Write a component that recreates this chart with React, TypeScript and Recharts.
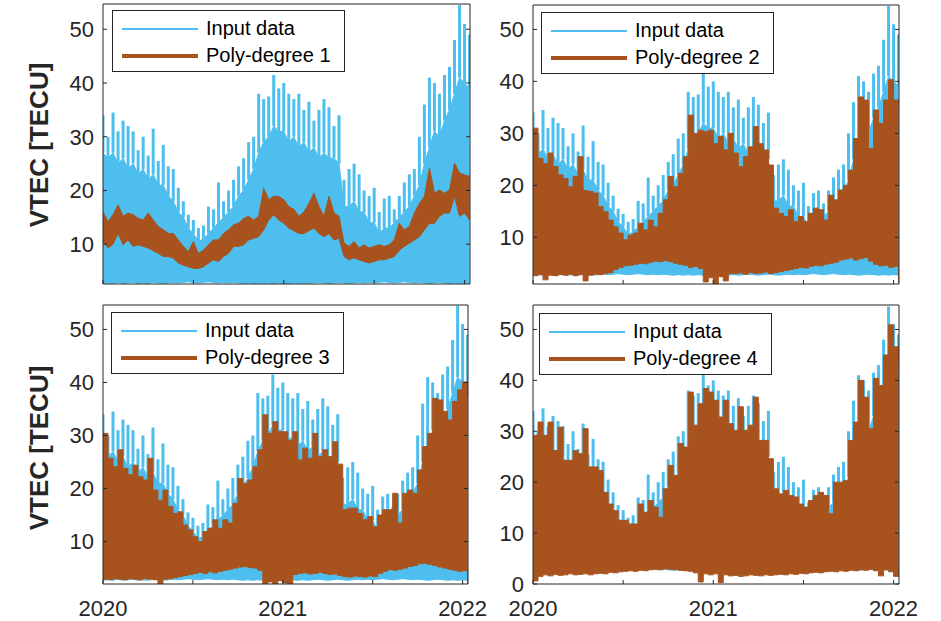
import { ComposedChart, Area, Bar, XAxis, YAxis, Legend } from 'recharts';

const BLUE = '#4DBEEE';
const BROWN = '#A8531E';
const INK = '#262626';
const FONT = '"Liberation Sans", Arial, Helvetica, sans-serif';

// input VTEC sampled every 1/36 year from Jan 2020:
// daily-peak spikes, the dense body under them, and the night-time floor
const inputTip = [
  34, 30, 34.5, 31, 33, 32, 31, 27.5, 30, 26.5,
  31.5, 25.5, 28.5, 24.5, 24, 20.5, 18, 15.5, 14.5, 13,
  13.5, 17, 16.5, 21.5, 18, 20, 22, 24.5, 26, 29,
  30, 38, 37, 37.5, 41.5, 39, 40, 38, 37, 38,
  35, 36.5, 33, 35, 37, 35.5, 32, 34, 22, 24,
  25, 23, 20, 19, 20.5, 16, 18.5, 19, 16.5, 19,
  21.5, 23, 24, 30, 36, 41, 40, 38, 41.5, 43,
  48, 54.5, 51, 49,
];
const inputBody = [
  27, 26, 27, 25, 26, 24, 25, 23, 24, 22,
  23, 21, 21, 19, 18, 16, 15, 13, 12, 10.5,
  11, 12, 13, 14, 15, 16, 17, 19, 20, 22,
  24, 27, 29, 30, 32, 31, 31, 29, 30, 28,
  29, 27, 28, 26, 27, 26, 26, 25, 17, 17,
  18, 16, 16, 14, 14, 12, 13, 13, 14, 15,
  16, 17, 19, 21, 25, 28, 31, 30, 33, 35,
  38, 41, 40, 39,
];
const inputLow = [
  2.7, 2.8, 2.7, 2.9, 2.7, 2.8, 2.9, 2.7, 2.8, 2.7,
  2.9, 2.8, 2.7, 2.8, 2.9, 2.8, 2.9, 3.0, 2.9, 2.8,
  2.9, 3.0, 2.9, 2.8, 2.9, 2.8, 2.9, 2.8, 2.7, 2.8,
  2.7, 2.8, 2.7, 2.8, 2.7, 2.8, 2.7, 2.7, 2.8, 2.7,
  2.8, 2.7, 2.8, 2.9, 2.8, 2.7, 2.8, 2.9, 2.8, 2.7,
  2.8, 2.9, 2.8, 2.9, 2.8, 2.9, 3.0, 2.9, 2.8, 2.9,
  3.0, 2.9, 2.8, 2.9, 2.8, 2.7, 2.8, 2.9, 2.8, 2.7,
  2.8, 2.7, 2.8, 2.7,
];

// polynomial fits, upper / lower envelope
const deg1High = [
  16, 14.2, 15.5, 17.3, 15.2, 15.8, 15.5, 14.8, 14.5, 15.8,
  14.5, 13.3, 12.7, 12, 12, 10.8, 9.6, 8.6, 10.5, 8.3,
  8.9, 9.9, 10.8, 10.8, 12, 12.7, 13.6, 13.9, 14.8, 15.2,
  14.5, 15.2, 20.4, 18.3, 18.9, 18.9, 18.3, 17, 16.5, 15.2,
  16, 17.6, 19.5, 17, 15.2, 18.9, 15.8, 15.2, 10.2, 9.6,
  10.5, 9.3, 9.9, 9.3, 9.6, 9.9, 9.6, 9.9, 10.8, 13.9,
  12.7, 13.3, 15.8, 17.6, 18.9, 24.2, 19.5, 20.1, 19.5, 20.1,
  25.1, 23.2, 22.9, 22.6,
];
const deg1Low = [
  10.5, 9.3, 10, 12, 9.9, 10.8, 9.6, 9.9, 9.6, 9.3,
  8.8, 8.3, 7.7, 7.7, 7.4, 6.5, 6.1, 5.8, 5.5, 5.5,
  5.8, 6.5, 7.1, 6.8, 7.7, 8.3, 9.6, 9.6, 9.9, 10.8,
  11.1, 11.4, 12.7, 14.5, 15.5, 14.5, 13.9, 13, 12.5, 12,
  12, 12.5, 13, 12, 11.4, 12, 10.8, 11.1, 7.7, 7.1,
  7.5, 7.1, 6.8, 6.5, 6.8, 7.1, 7.1, 7.4, 7.7, 8.9,
  9.6, 10.2, 10.8, 11.4, 12.7, 13.9, 13.9, 15.2, 15.8, 15.8,
  18.9, 15.2, 15.8, 14.5,
];
const deg2High = [
  31, 25.2, 24.2, 26.2, 23.6, 22, 21.3, 19.7, 21.7, 25.5,
  19, 18.8, 18.5, 15.9, 14.9, 13.3, 12, 10.8, 9.5, 10.4,
  10.8, 12.7, 11.4, 13.3, 12, 14.6, 17.2, 21.7, 19.7, 22.3,
  25.5, 33.5, 30, 30.6, 30.3, 30.6, 28, 29.4, 26.8, 30,
  26.2, 23.6, 25.5, 27.4, 31.3, 28, 26.8, 23.9, 15.6, 14.6,
  14, 15.3, 13, 14, 13, 14.6, 15.6, 15.3, 13.3, 18.1,
  17.2, 19.1, 20, 22.9, 29, 37, 36.4, 27.1, 34.5, 31.9,
  36.4, 40.3, 36.4, 35.4,
];
const deg2Low = [
  2.6, 2.8, 1.8, 2.7, 2.6, 2.8, 2.7, 2.9, 2.6, 2.8,
  1.6, 2.7, 2.9, 2.8, 3.0, 3.2, 3.8, 4.2, 4.5, 4.6,
  4.8, 5.0, 4.9, 5.2, 5.4, 5.3, 5.5, 5.3, 5.0, 4.8,
  4.6, 4.2, 4.4, 4.0, 1.4, 2.2, 1.0, 2.4, 1.6, 3.0,
  3.0, 3.1, 2.9, 3.2, 3.0, 3.1, 3.3, 3.0, 3.2, 3.4,
  3.6, 3.8, 4.0, 4.2, 4.1, 4.4, 4.6, 4.5, 4.8, 5.0,
  5.2, 5.6, 5.8, 6.0, 5.6, 5.9, 6.1, 5.4, 4.8, 4.5,
  4.6, 4.2, 4.4, 1.2,
];
const deg3High = [
  30.4, 25.7, 24.1, 27.3, 23.8, 22.6, 24.4, 22.2, 21.6, 25.7,
  19.7, 17.8, 19.7, 16.6, 15.3, 15.6, 13.1, 12.2, 10.9, 10,
  11.9, 12.5, 14.1, 12.5, 14.1, 13.5, 17.2, 21.9, 21, 21.6,
  24.1, 27.3, 33.9, 30.4, 32.6, 30.7, 30.7, 29.1, 30.7, 25.4,
  27.6, 25.7, 30.4, 26, 27.3, 26, 28.8, 24.6, 16, 16.3,
  16.3, 15.3, 14.1, 14.7, 12.8, 15, 16, 16, 19.1, 13.5,
  19.1, 19.7, 19.1, 23.5, 27.9, 30.4, 37, 36.7, 34.5, 32.9,
  36.4, 38.6, 40.1, 37.3,
];
const deg3Low = [
  2.9, 2.8, 3.0, 2.9, 2.8, 3.0, 2.9, 2.8, 3.0, 2.9,
  2.8, 2.0, 2.9, 3.0, 3.2, 3.4, 3.6, 3.8, 4.0, 4.2,
  4.0, 4.3, 4.1, 4.4, 4.6, 4.8, 5.0, 5.2, 5.3, 5.1,
  5.0, 4.6, 2.0, 2.4, 2.0, 2.6, 2.2, 2.0, 3.8, 4.0,
  4.1, 3.9, 4.0, 4.2, 4.0, 3.8, 3.9, 3.6, 3.4, 3.3,
  3.5, 3.4, 3.3, 3.5, 3.4, 4.0, 4.4, 4.7, 4.6, 4.8,
  5.0, 5.3, 5.5, 5.8, 5.9, 5.7, 5.5, 5.2, 5.0, 4.8,
  4.6, 4.4, 4.5, 2.0,
];
const deg4High = [
  29.2, 31.8, 29.2, 31.8, 26.2, 30.8, 24.3, 24.3, 26.2, 25.6,
  30.5, 23, 23, 22.3, 18, 15.7, 14.4, 12.5, 12.5, 11.8,
  11.8, 15.7, 14.1, 16.4, 15.1, 13.1, 18.7, 23.3, 21.3, 27.6,
  26.9, 37.7, 31.2, 35.4, 38.4, 37.7, 36.1, 32.8, 36.1, 31.5,
  30.2, 34.8, 30.2, 31.2, 36.7, 28.2, 28.2, 24.6, 18.7, 17.7,
  18.4, 17.4, 17.1, 15.7, 15.1, 16.4, 17.4, 18, 17.4, 13.8,
  20, 20, 20.3, 28.2, 31.8, 40, 36.7, 30.5, 40.4, 39,
  45, 50.9, 46.6, 43.6,
];
const deg4Low = [
  0.6, 1.5, 1.8, 1.6, 1.9, 1.7, 1.8, 2.0, 1.8, 1.9,
  2.0, 1.8, 2.0, 2.1, 2.0, 2.3, 2.2, 2.4, 2.5, 2.6,
  2.5, 2.7, 2.6, 2.8, 2.9, 2.8, 3.0, 2.9, 2.8, 2.7,
  2.6, 2.5, 2.2, 0.4, 2.0, 1.8, 2.0, 0.3, 1.8, 1.6,
  1.7, 1.5, 1.6, 1.8, 1.7, 1.6, 1.8, 1.7, 1.8, 1.9,
  1.8, 2.0, 1.9, 2.1, 2.0, 2.2, 2.3, 2.2, 2.4, 2.5,
  2.4, 2.6, 2.5, 2.7, 2.6, 2.8, 2.7, 2.9, 2.6, 1.6,
  2.8, 2.4, 1.5, 2.6,
];

const yearTicks = [2020, 2020.5, 2021, 2021.5, 2022];
const vtecTicks = [10, 20, 30, 40, 50];
const vtecTicksZero = [0, 10, 20, 30, 40, 50];

const times = inputTip.map((_, i) => 2020 + i / 36);

function buildRows(fitHigh: number[], fitLow: number[]) {
  return times.map((t, i) => ({
    t,
    input: [inputLow[i], inputBody[i]],
    spike: [inputBody[i], inputTip[i]],
    fit: [fitLow[i], fitHigh[i]],
  }));
}

const tickStyle = { fill: INK, fontSize: 22, fontFamily: FONT };

function LegendBox({ payload }: { payload?: Array<{ value?: string }> }) {
  const names = (payload ?? []).map(p => String(p.value));
  const rows = [
    { label: names.find(n => n.startsWith('Input')) ?? 'Input data', color: BLUE, thick: 1.5, y: 18 },
    { label: names.find(n => n.startsWith('Poly')) ?? '', color: BROWN, thick: 4.5, y: 45 },
  ];
  return (
    <div
      style={{
        position: 'relative',
        width: 233,
        height: 62,
        boxSizing: 'border-box',
        border: `1px solid ${INK}`,
        background: '#fff',
        fontFamily: FONT,
      }}
    >
      {rows.map(r => (
        <div key={r.label}>
          <div style={{ position: 'absolute', left: 9, top: r.y - r.thick / 2, width: 76, height: r.thick, background: r.color }} />
          <div style={{ position: 'absolute', left: 93, top: r.y - 13, fontSize: 20, lineHeight: '24px', color: '#000', whiteSpace: 'nowrap' }}>
            {r.label}
          </div>
        </div>
      ))}
    </div>
  );
}

type PanelProps = {
  degree: number;
  fitHigh: number[];
  fitLow: number[];
  curve: 'linear' | 'stepAfter';
  left: number;
  top: number;
  width: number;
  height: number;
  margin: { top: number; right: number; left: number; bottom: number };
  bottomHeight: number;
  yDomain: [number, number];
  yTicks: number[];
  showYears: boolean;
  legendPos: { left: number; top: number };
};

function Panel(p: PanelProps) {
  const data = buildRows(p.fitHigh, p.fitLow);
  const xDomain: [number, number] = [2020, 2022.03];
  const yearLabel = (v: number) => (p.showYears && Number.isInteger(v) ? String(v) : '');
  return (
    <div style={{ position: 'absolute', left: p.left, top: p.top }}>
      <ComposedChart width={p.width} height={p.height} data={data} margin={p.margin}>
        <Area
          xAxisId="b"
          yAxisId="l"
          type="linear"
          dataKey="input"
          name="Input data"
          stroke={BLUE}
          strokeWidth={1}
          fill={BLUE}
          fillOpacity={1}
          dot={false}
          activeDot={false}
          isAnimationActive={false}
        />
        <Bar
          xAxisId="b"
          yAxisId="l"
          dataKey="spike"
          barSize={3}
          fill={BLUE}
          legendType="none"
          isAnimationActive={false}
        />
        <Area
          xAxisId="b"
          yAxisId="l"
          type={p.curve}
          dataKey="fit"
          name={`Poly-degree ${p.degree}`}
          stroke={BROWN}
          strokeWidth={1}
          fill={BROWN}
          fillOpacity={1}
          dot={false}
          activeDot={false}
          isAnimationActive={false}
          {...({ zIndex: 350 } as any)}
        />
        <XAxis
          xAxisId="b"
          dataKey="t"
          type="number"
          domain={xDomain}
          allowDataOverflow
          ticks={yearTicks}
          interval={0}
          tickFormatter={yearLabel}
          height={p.bottomHeight}
          tickSize={-4}
          tickMargin={20}
          tick={tickStyle}
          axisLine={{ stroke: INK }}
          tickLine={{ stroke: INK }}
        />
        <XAxis
          xAxisId="t"
          orientation="top"
          type="number"
          domain={xDomain}
          allowDataOverflow
          ticks={yearTicks}
          interval={0}
          tickFormatter={() => ''}
          height={1}
          tickSize={-4}
          axisLine={{ stroke: INK }}
          tickLine={{ stroke: INK }}
        />
        <YAxis
          yAxisId="l"
          type="number"
          domain={p.yDomain}
          allowDataOverflow
          ticks={p.yTicks}
          interval={0}
          width={60}
          tickSize={-4}
          tickMargin={13}
          tick={tickStyle}
          axisLine={{ stroke: INK }}
          tickLine={{ stroke: INK }}
        />
        <YAxis
          yAxisId="r"
          orientation="right"
          type="number"
          domain={p.yDomain}
          allowDataOverflow
          ticks={p.yTicks}
          interval={0}
          width={1}
          tickSize={-4}
          tickFormatter={() => ''}
          axisLine={{ stroke: INK }}
          tickLine={{ stroke: INK }}
        />
        <Legend
          layout="vertical"
          align="center"
          verticalAlign="middle"
          content={(props: any) => <LegendBox payload={props.payload} />}
          wrapperStyle={{ left: p.legendPos.left, top: p.legendPos.top, width: 233, height: 62 }}
        />
      </ComposedChart>
    </div>
  );
}

const yTitleStyle = {
  position: 'absolute' as const,
  left: 39,
  transform: 'translate(-50%, -50%) rotate(-90deg)',
  fontFamily: FONT,
  fontWeight: 700,
  fontSize: 26,
  color: INK,
  whiteSpace: 'nowrap' as const,
};

export default function App() {
  return (
    <div style={{ position: 'absolute', left: 0, top: 0, width: 941, height: 621, background: '#fff', overflow: 'hidden' }}>
      <Panel
        degree={1}
        fitHigh={deg1High}
        fitLow={deg1Low}
        curve="linear"
        left={0}
        top={0}
        width={480}
        height={300}
        margin={{ top: 3, right: 9, left: 43, bottom: 0 }}
        bottomHeight={16}
        yDomain={[2.6, 54.7]}
        yTicks={vtecTicks}
        showYears={false}
        legendPos={{ left: 112, top: 10 }}
      />
      <Panel
        degree={2}
        fitHigh={deg2High}
        fitLow={deg2Low}
        curve="stepAfter"
        left={470}
        top={0}
        width={471}
        height={300}
        margin={{ top: 4, right: 41, left: 3, bottom: 0 }}
        bottomHeight={16}
        yDomain={[1.0, 54.7]}
        yTicks={vtecTicks}
        showYears={false}
        legendPos={{ left: 71, top: 12 }}
      />
      <Panel
        degree={3}
        fitHigh={deg3High}
        fitLow={deg3Low}
        curve="stepAfter"
        left={0}
        top={290}
        width={500}
        height={331}
        margin={{ top: 14, right: 31, left: 43, bottom: 0 }}
        bottomHeight={37}
        yDomain={[2.0, 54.6]}
        yTicks={vtecTicks}
        showYears
        legendPos={{ left: 111, top: 22 }}
      />
      <Panel
        degree={4}
        fitHigh={deg4High}
        fitLow={deg4Low}
        curve="stepAfter"
        left={470}
        top={290}
        width={471}
        height={331}
        margin={{ top: 14, right: 41, left: 3, bottom: 0 }}
        bottomHeight={37}
        yDomain={[0, 54.8]}
        yTicks={vtecTicksZero}
        showYears
        legendPos={{ left: 69, top: 23 }}
      />
      <div style={{ ...yTitleStyle, top: 145 }}>VTEC [TECU]</div>
      <div style={{ ...yTitleStyle, top: 448 }}>VTEC [TECU]</div>
    </div>
  );
}
